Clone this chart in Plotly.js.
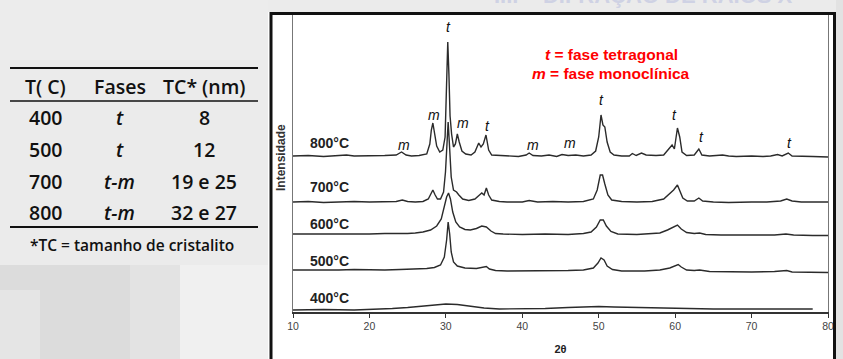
<!DOCTYPE html>
<html><head><meta charset="utf-8">
<script src="https://cdn.plot.ly/plotly-3.0.1.min.js"></script>
<style>html,body{margin:0;padding:0;background:#ebebeb;}#chart{width:843px;height:359px;}</style>
</head><body><div id="chart"></div>
<script>
// ---- DATA (intensity in plotted units, stacked offsets included) ----
const temps = ['400°C', '500°C', '600°C', '700°C', '800°C'];

const tt800 = [10,12,14,16,17,18,20,22,23.5,24.2,24.8,25.5,26.5,27.5,27.9,28.1,28.3,28.5,28.8,29.2,29.6,29.9,30.1,30.25,30.4,30.55,30.75,31.0,31.25,31.5,31.75,32.1,32.6,33.3,33.8,34.3,34.6,34.9,35.25,35.6,36,37,38,39.5,40.5,40.9,41.4,42.5,43.5,44.5,45.2,46,47,48,49,49.6,50.0,50.3,50.55,50.8,51.1,51.5,52,53,54,54.4,54.9,55.6,56.2,57.5,58.5,59.2,59.6,59.9,60.3,60.6,60.9,61.5,62.5,63.1,63.5,64.5,65.5,66.2,67,68,70,71.5,72.5,73.4,74,74.8,75.3,76.5,78,80];
const in800 = [156,156.5,155.5,156.5,157,156,156,156.5,157,160,157,156,156.5,158,168,182,189,180,166,160,162,175,230,270,238,196,178,165,168,178,170,161,158,157,160,169,165,168,177,162,157,156.5,156,155.5,157,159,156.5,156,157,155.5,157.5,156.5,157,156,157,161,175,197,187,185,170,160,157,156,156,158.5,156.5,159,157,156.5,157,163,167,163,184,175,160,156.5,157,163,157,156,156.5,157,156,155.5,156,155.5,156,157.5,156,159,156,155.5,155.5,155];

const tt700 = [10,12,14,16,18,20,22,23.5,24.3,25,26,27,27.7,28.0,28.3,28.6,28.9,29.3,29.7,29.95,30.15,30.3,30.45,30.7,31.0,31.4,31.7,32.2,33,33.8,34.4,34.7,35.0,35.3,35.6,36,37,38,40,40.9,42,44,46,48,49.3,49.8,50.2,50.5,50.8,51.2,51.7,53,55,57,58.5,59.3,59.8,60.3,60.6,61,61.6,62.5,63.1,63.6,65,67,70,72,73.8,74.6,75.3,76.5,78,80];
const in700 = [110,110.5,109.5,110,110.5,110,110,110.5,112,110.5,110,110.5,113,118,122,117,113,113,120,140,175,190,170,135,122,120,117,113,111.5,113,117,119,117,124,117,112,110.5,110,110,111.5,110,110.5,110,110.5,113,122,137,137,128,117,112,110.5,110,110.5,113,118,122,127,122,114,111,111,114,111,110,109.5,110,110,111,113,111,110,110,110];

const tt600 = [10,12,14,16,18,20,22,24,25,26,27,28,28.8,29.4,29.8,30.1,30.35,30.6,30.9,31.3,31.8,32.5,33.2,34,34.7,35.3,35.9,36.5,37.5,40,43,46,48,49,49.7,50.2,50.6,51,51.6,52.5,55,57,58,59,59.8,60.3,60.8,61.5,62.5,63.2,64,66,70,73,74.5,75.5,78,80];
const in600 = [78,78,77.5,78,78,78,78.5,78,78.5,79,80,82,86,93,104,115,119,113,100,90,85,82.5,82,83.5,86,85,81,78.5,78,77.5,78,77.5,78.5,80,85,92,92,86,80.5,78,77.5,78,79,82,85,87,83,79.5,78.5,79,77.5,77,77,77,78,77,76.5,76.5];

const tt500 = [10,12,14,16,18,20,22,24,26,27.5,28.5,29.3,29.8,30.1,30.3,30.5,30.7,31,31.5,32.5,34,34.8,35.3,35.7,36.5,38,40,43,46,48,49.3,49.9,50.3,50.7,51.1,51.8,53,56,58,59.3,60.1,60.4,60.8,61.5,62.5,63.2,64.5,67,70,73,74.6,75.3,77,80];
const in500 = [42,42,41.5,42,42.5,42,42,42.5,43,43.5,44.5,47,55,72,90,78,60,50,46,44,43.5,44.5,45.5,43,41.5,41,41,41,41.5,42,44,49,54,52,46,42.5,41,41,42,44,46.5,47.5,45,42,41.5,42,40.5,40,40,40.5,41.5,40,40,39.5];

const tt400 = [10,14,18,21,23,25,27,28.5,30,31.5,33,35,37,40,43,46,48,50,52,55,58,60,62,65,70,75,78];
const in400 = [2,2.5,2,2.5,3.5,4.5,6,7,8,7.5,6,4,3,3,3.5,4.5,5,5.5,5,4.5,4,4,3,3,3,3,3];

const xTicks = [10,20,30,40,50,60,70,80];

// phase labels on the peaks
const phaseText = ['t','m','m','t','m','m','m','t','t','t','t'];
const phaseX    = [30.3,28.4,32.3,35.4,24.5,41.4,46.2,50.3,59.9,63.4,75.0];
const phaseY    = [285,197,189,186,167,167,169,212,197,175,169];

// table
const tableHeader = ['T( C)', 'Fases', 'TC* (nm)'];
const colTemp  = ['400', '500', '700', '800'];
const colPhase = ['t', 't', 't-m', 't-m'];
const colSize  = ['8', '12', '19 e 25', '32 e 27'];
const footnote = '*TC = tamanho de cristalito';

// ---- LAYOUT HELPERS ----
const L = 293, R = 828, T = 14, B = 312;
const px = x => (x - L) / (R - L);
const py = y => (B - y) / (B - T);

const series = [[tt400,in400],[tt500,in500],[tt600,in600],[tt700,in700],[tt800,in800]];
const traces = series.map((s, i) => ({
  x: s[0], y: s[1], type: 'scatter', mode: 'lines', name: temps[i],
  line: {color: '#2b2b2b', width: 1.4}, hoverinfo: 'skip'
}));

const ann = [];
const tempY = [14, 51, 88, 125, 169];
temps.forEach((t, i) => ann.push({x: 12.0, y: tempY[i], xref: 'x', yref: 'y', text: t, showarrow: false,
  xanchor: 'left', yanchor: 'middle', font: {family: 'Liberation Sans, Arial', size: 14, color: '#222', weight: 'bold'}}));
phaseText.forEach((t, i) => ann.push({x: phaseX[i], y: phaseY[i], xref: 'x', yref: 'y', text: '<i>' + t + '</i>', showarrow: false,
  xanchor: 'center', yanchor: 'middle', font: {family: 'Liberation Sans, Arial', size: 14, color: '#111'}}));
ann.push({x: px(611), y: py(55), xref: 'paper', yref: 'paper', text: '<b><i>t</i> = fase tetragonal</b>', showarrow: false,
  xanchor: 'center', yanchor: 'middle', font: {family: 'Liberation Sans, Arial', size: 15.5, color: '#ff0000'}});
ann.push({x: px(611), y: py(73), xref: 'paper', yref: 'paper', text: '<b><i>m</i> = fase monoclínica</b>', showarrow: false,
  xanchor: 'center', yanchor: 'middle', font: {family: 'Liberation Sans, Arial', size: 15.5, color: '#ff0000'}});
ann.push({x: px(281), y: py(158), xref: 'paper', yref: 'paper', text: '<b>Intensidade</b>', showarrow: false, textangle: -90,
  xanchor: 'center', yanchor: 'middle', font: {family: 'Liberation Sans, Arial', size: 12, color: '#333'}});
// faded slide title, cut at the top edge as in the reference
ann.push({x: px(492), y: py(-4), xref: 'paper', yref: 'paper', text: '<b>III.    DIFRAÇÃO DE RAIOS X</b>', showarrow: false,
  xanchor: 'left', yanchor: 'middle', font: {family: 'Liberation Sans, Arial', size: 22, color: '#cfd2e4'}});

const colX = [45.5, 119.5, 204];
const tFont = {family: 'Open Sans, DejaVu Sans', size: 19.5, color: '#111', weight: 600};
tableHeader.forEach((h, i) => ann.push({x: px(colX[i]), y: py(86), xref: 'paper', yref: 'paper', text: h, showarrow: false,
  xanchor: 'center', yanchor: 'middle', font: tFont}));
const rowY = [117, 149, 181, 212];
rowY.forEach((yy, r) => {
  ann.push({x: px(colX[0]), y: py(yy), xref: 'paper', yref: 'paper', text: colTemp[r], showarrow: false, xanchor: 'center', yanchor: 'middle', font: tFont});
  ann.push({x: px(colX[1]), y: py(yy), xref: 'paper', yref: 'paper', text: '<i>' + colPhase[r] + '</i>', showarrow: false, xanchor: 'center', yanchor: 'middle', font: tFont});
  ann.push({x: px(colX[2]), y: py(yy), xref: 'paper', yref: 'paper', text: colSize[r], showarrow: false, xanchor: 'center', yanchor: 'middle', font: tFont});
});
ann.push({x: px(132), y: py(245), xref: 'paper', yref: 'paper', text: footnote, showarrow: false, xanchor: 'center', yanchor: 'middle',
  font: {family: 'Open Sans, DejaVu Sans', size: 15.5, color: '#111', weight: 600}});

const rect = (x0, y0, x1, y1, color, layer) => ({type: 'rect', xref: 'paper', yref: 'paper', x0: px(x0), x1: px(x1), y0: py(y1), y1: py(y0),
  fillcolor: color, line: {width: 0}, layer: layer || 'below'});
const hline = (x0, x1, y, w) => ({type: 'line', xref: 'paper', yref: 'paper', x0: px(x0), x1: px(x1), y0: py(y), y1: py(y), line: {color: '#111', width: w}, layer: 'above'});
const vline = (x, y0, y1, w, c) => ({type: 'line', xref: 'paper', yref: 'paper', x0: px(x), x1: px(x), y0: py(y0), y1: py(y1), line: {color: c || '#111', width: w}, layer: 'above'});

const shapes = [
  rect(0, 0, 268, 60, '#ececec'),
  rect(0, 265, 130, 359, '#dcdcdc'),
  rect(130, 265, 180, 359, '#e3e3e3'),
  rect(180, 265, 268, 359, '#f0f0f0'),
  rect(0, 290, 40, 359, '#e5e5e5'),
  rect(836, 0, 843, 359, '#e2e2e2'),
  rect(268, 12, 836, 360, '#ffffff'),
  vline(271, 12, 360, 3),
  hline(270, 836, 13.5, 3),
  vline(834.5, 12, 360, 3),
  hline(10, 258, 68, 1.8),
  hline(10, 258, 101, 1.5),
  hline(10, 258, 227, 1.8)
];

const layout = {
  width: 843, height: 359,
  margin: {l: L, r: 843 - R, t: T, b: 359 - B, pad: 0},
  paper_bgcolor: '#ebebeb', plot_bgcolor: '#ffffff',
  showlegend: false,
  font: {family: 'Liberation Sans, Arial', color: '#333'},
  xaxis: {range: [10, 80], tickvals: xTicks, ticktext: xTicks.map(String), showgrid: false, zeroline: false,
    showline: true, linecolor: '#333', linewidth: 1.5, ticks: 'outside', ticklen: 4, tickcolor: '#333', tickwidth: 1,
    tickfont: {family: 'Liberation Sans, Arial', size: 10.5, color: '#444'},
    title: {text: '<b>2θ</b>', font: {family: 'Liberation Sans, Arial', size: 11, color: '#222'}, standoff: 14}},
  yaxis: {range: [0, 298], showgrid: false, zeroline: false, showticklabels: false, ticks: '',
    showline: true, linecolor: '#777', linewidth: 1, mirror: true},
  annotations: ann,
  shapes: shapes
};

Plotly.newPlot('chart', traces, layout, {staticPlot: true, displayModeBar: false});
</script></body></html>
